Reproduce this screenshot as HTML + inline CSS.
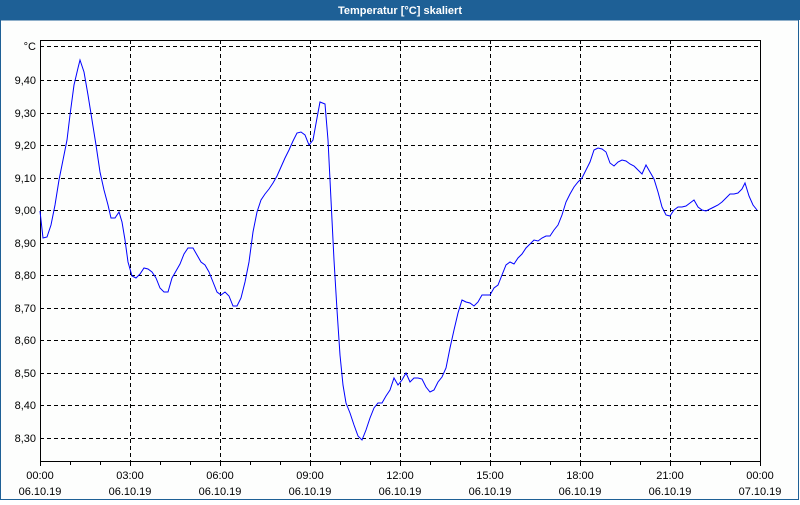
<!DOCTYPE html>
<html><head><meta charset="utf-8"><style>
html,body{margin:0;padding:0;background:#fff;}
</style></head><body>
<svg width="800" height="500" xmlns="http://www.w3.org/2000/svg" font-family="Liberation Sans, DejaVu Sans, sans-serif" font-size="11">
<rect width="800" height="500" fill="#fdfefd"/>
<rect x="0" y="0" width="800" height="20" fill="#1e6096"/>
<text x="400" y="14" fill="#fff" font-weight="bold" text-anchor="middle" font-size="11">Temperatur [°C] skaliert</text>
<rect x="0.5" y="20" width="798" height="479.5" fill="none" stroke="#1e6096" stroke-width="1"/>
<g stroke="#000" stroke-width="1" stroke-dasharray="4,3" fill="none">
<line x1="40" y1="46.5" x2="760" y2="46.5"/>
<line x1="40" y1="80.5" x2="760" y2="80.5"/>
<line x1="40" y1="113.5" x2="760" y2="113.5"/>
<line x1="40" y1="145.5" x2="760" y2="145.5"/>
<line x1="40" y1="178.5" x2="760" y2="178.5"/>
<line x1="40" y1="210.5" x2="760" y2="210.5"/>
<line x1="40" y1="243.5" x2="760" y2="243.5"/>
<line x1="40" y1="275.5" x2="760" y2="275.5"/>
<line x1="40" y1="308.5" x2="760" y2="308.5"/>
<line x1="40" y1="340.5" x2="760" y2="340.5"/>
<line x1="40" y1="373.5" x2="760" y2="373.5"/>
<line x1="40" y1="405.5" x2="760" y2="405.5"/>
<line x1="40" y1="438.5" x2="760" y2="438.5"/>
<line x1="130.5" y1="40" x2="130.5" y2="461"/>
<line x1="220.5" y1="40" x2="220.5" y2="461"/>
<line x1="310.5" y1="40" x2="310.5" y2="461"/>
<line x1="400.5" y1="40" x2="400.5" y2="461"/>
<line x1="490.5" y1="40" x2="490.5" y2="461"/>
<line x1="580.5" y1="40" x2="580.5" y2="461"/>
<line x1="670.5" y1="40" x2="670.5" y2="461"/>
</g>
<rect x="40.5" y="40.5" width="720" height="421" fill="none" stroke="#000" stroke-width="1"/>
<g stroke="#000" stroke-width="1">
<line x1="40.5" y1="461" x2="40.5" y2="466"/><line x1="70.5" y1="461" x2="70.5" y2="465"/><line x1="100.5" y1="461" x2="100.5" y2="465"/>
<line x1="130.5" y1="461" x2="130.5" y2="466"/><line x1="160.5" y1="461" x2="160.5" y2="465"/><line x1="190.5" y1="461" x2="190.5" y2="465"/>
<line x1="220.5" y1="461" x2="220.5" y2="466"/><line x1="250.5" y1="461" x2="250.5" y2="465"/><line x1="280.5" y1="461" x2="280.5" y2="465"/>
<line x1="310.5" y1="461" x2="310.5" y2="466"/><line x1="340.5" y1="461" x2="340.5" y2="465"/><line x1="370.5" y1="461" x2="370.5" y2="465"/>
<line x1="400.5" y1="461" x2="400.5" y2="466"/><line x1="430.5" y1="461" x2="430.5" y2="465"/><line x1="460.5" y1="461" x2="460.5" y2="465"/>
<line x1="490.5" y1="461" x2="490.5" y2="466"/><line x1="520.5" y1="461" x2="520.5" y2="465"/><line x1="550.5" y1="461" x2="550.5" y2="465"/>
<line x1="580.5" y1="461" x2="580.5" y2="466"/><line x1="610.5" y1="461" x2="610.5" y2="465"/><line x1="640.5" y1="461" x2="640.5" y2="465"/>
<line x1="670.5" y1="461" x2="670.5" y2="466"/><line x1="700.5" y1="461" x2="700.5" y2="465"/><line x1="730.5" y1="461" x2="730.5" y2="465"/>
<line x1="760.5" y1="461" x2="760.5" y2="466"/>
</g>
<g fill="#000" text-anchor="end">
<text x="36" y="50">°C</text>
<text x="36" y="84">9,40</text>
<text x="36" y="117">9,30</text>
<text x="36" y="149">9,20</text>
<text x="36" y="182">9,10</text>
<text x="36" y="214">9,00</text>
<text x="36" y="247">8,90</text>
<text x="36" y="279">8,80</text>
<text x="36" y="312">8,70</text>
<text x="36" y="344">8,60</text>
<text x="36" y="377">8,50</text>
<text x="36" y="409">8,40</text>
<text x="36" y="442">8,30</text>
</g>
<g fill="#000" text-anchor="middle">
<text x="40" y="479">00:00</text><text x="40" y="495">06.10.19</text>
<text x="130" y="479">03:00</text><text x="130" y="495">06.10.19</text>
<text x="220" y="479">06:00</text><text x="220" y="495">06.10.19</text>
<text x="310" y="479">09:00</text><text x="310" y="495">06.10.19</text>
<text x="400" y="479">12:00</text><text x="400" y="495">06.10.19</text>
<text x="490" y="479">15:00</text><text x="490" y="495">06.10.19</text>
<text x="580" y="479">18:00</text><text x="580" y="495">06.10.19</text>
<text x="670" y="479">21:00</text><text x="670" y="495">06.10.19</text>
<text x="760" y="479">00:00</text><text x="760" y="495">07.10.19</text>
</g>
<polyline fill="none" stroke="#0000ff" stroke-width="1" points="40,211 43,238 47,237 51,225 55,205 59,180 63,160 67,140 70,115 74,85 78,68 80,60 84,72 88,95 92,120 96,145 100,172 104,190 108,205 111,218 115,218 119,212 122,222 125,240 128,262 132,276 136,278 140,274 144,268 148,269 152,272 156,278 160,288 164,292 168,292 172,278 176,271 180,264 184,254 188,248 193,248 197,255 201,262 205,265 209,272 213,282 217,292 221,295 225,292 229,296 233,306 237,306 241,298 245,282 249,262 253,232 257,212 261,200 265,194 269,189 273,183 277,176 281,167 285,158 289,150 293,141 297,133 301,132 305,135 309,145 313,140 317,118 320,102 325,104 328,140 331,200 334,260 337,310 340,355 343,385 346,403 350,413 354,425 358,436 362,440 366,430 370,418 374,408 378,403 382,403 386,396 390,390 394,378 398,385 402,380 406,373 410,382 414,378 418,378 422,379 426,387 430,392 434,390 438,382 442,377 446,368 450,348 454,330 458,313 462,300 466,302 470,303 474,306 478,302 482,295 486,295 490,295 494,288 498,285 502,275 506,265 510,262 514,264 518,258 522,254 526,248 530,244 534,240 538,241 542,238 546,236 550,236 554,230 558,225 562,215 566,202 570,194 574,187 578,182 582,178 586,170 590,162 594,150 598,148 602,149 606,152 610,163 614,166 618,162 622,160 626,161 630,164 634,166 638,170 642,174 646,165 650,172 654,179 658,192 662,207 666,215 670,216 674,210 678,207 682,207 686,206 690,203 694,200 698,207 702,210 706,211 710,209 714,207 718,205 722,202 726,198 730,194 734,194 738,193 742,189 745,183 749,196 753,205 757,210"/>
</svg>
</body></html>
